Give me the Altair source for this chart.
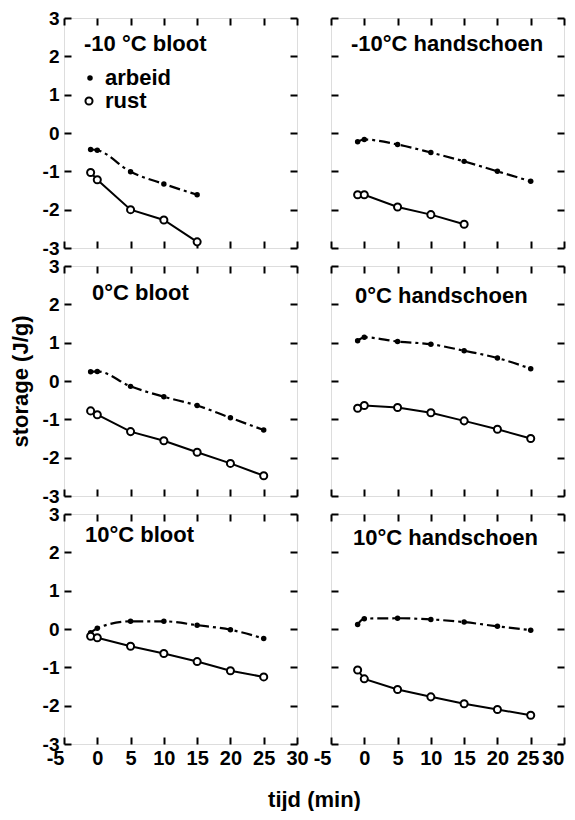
import altair as alt
import pandas as pd

# ---------------- data ----------------
time_full = [-1, 0, 5, 10, 15, 20, 25]
time_short = [-1, 0, 5, 10, 15]

panel_titles = ["-10 °C bloot", "-10°C handschoen", "0°C bloot",
                "0°C handschoen", "10°C bloot", "10°C handschoen"]
series_names = ["arbeid", "rust"]

arbeid_m10_bloot = [-0.43, -0.45, -1.01, -1.33, -1.61]
rust_m10_bloot = [-1.03, -1.22, -2.00, -2.27, -2.84]
arbeid_m10_hand = [-0.23, -0.17, -0.30, -0.51, -0.74, -1.00, -1.26]
rust_m10_hand = [-1.61, -1.61, -1.93, -2.13, -2.38]
arbeid_0_bloot = [0.24, 0.25, -0.14, -0.41, -0.64, -0.96, -1.28]
rust_0_bloot = [-0.78, -0.88, -1.32, -1.56, -1.86, -2.15, -2.47]
arbeid_0_hand = [1.05, 1.14, 1.03, 0.96, 0.79, 0.60, 0.32]
rust_0_hand = [-0.71, -0.64, -0.69, -0.83, -1.04, -1.26, -1.50]
arbeid_10_bloot = [-0.10, 0.02, 0.20, 0.20, 0.10, -0.02, -0.25]
rust_10_bloot = [-0.19, -0.23, -0.45, -0.64, -0.85, -1.09, -1.25]
arbeid_10_hand = [0.12, 0.27, 0.28, 0.25, 0.18, 0.07, -0.03]
rust_10_hand = [-1.07, -1.30, -1.58, -1.77, -1.95, -2.10, -2.25]

x_tick_labels = [-5, 0, 5, 10, 15, 20, 25, 30]
y_tick_labels = [-3, -2, -1, 0, 1, 2, 3]

# ---------------- layout ----------------
W, H = 233, 230
FONT = "Liberation Sans"
TICK = 7
title_pos = [(20, 26), (20, 26), (28, 27), (24, 30), (21, 21), (22, 24)]

xs = alt.Scale(domain=[-5, 30], nice=False, zero=False)
ys = alt.Scale(domain=[-3, 3], nice=False, zero=False)

panel_data = [
    (time_short, arbeid_m10_bloot, time_short, rust_m10_bloot),
    (time_full, arbeid_m10_hand, time_short, rust_m10_hand),
    (time_full, arbeid_0_bloot, time_full, rust_0_bloot),
    (time_full, arbeid_0_hand, time_full, rust_0_hand),
    (time_full, arbeid_10_bloot, time_full, rust_10_bloot),
    (time_full, arbeid_10_hand, time_full, rust_10_hand),
]

# inward ticks (negative tick length given through an expression)
tick_style = dict(ticks=True, tickSize={"expr": str(-TICK)}, tickWidth=2,
                  tickColor="black", domain=False, grid=False)


def make_panel(i):
    row, col = divmod(i, 2)
    t_arb, arb, t_rust, rust = panel_data[i]

    if row == 2:
        test = "datum.value == -5" + (" || datum.value == 30" if col == 1 else "")
        shift = -3 if col == 1 else 0
        xaxis = alt.Axis(
            orient="bottom", values=x_tick_labels, **tick_style,
            labelFlush=False, labelOverlap=False, labelPadding=4 + TICK, labelFontSize=20,
            labelFont=FONT, labelFontWeight="bold", labelColor="black",
            labelAlign={"condition": {"test": test, "value": "right"}, "value": "center"},
            labelOffset={"condition": {"test": "datum.value == 25", "value": shift}, "value": 0},
            labelExpr="'' + datum.value",
            title=("tijd (min)" if col == 0 else None),
            titleFont=FONT, titleFontSize=22, titleFontWeight="bold", titleColor="black",
            titleX=W + 17, titleY=55, titleAlign="center", titleBaseline="middle",
        )
    else:
        xaxis = alt.Axis(orient="bottom", values=x_tick_labels, **tick_style,
                         labels=False, title=None)

    if col == 0:
        yaxis = alt.Axis(
            orient="left", values=y_tick_labels, **tick_style,
            labelFlush=False, labelOverlap=False, labelPadding=5 + TICK, labelFontSize=19,
            labelFont=FONT, labelFontWeight="bold", labelColor="black",
            labelBaseline="middle", labelExpr="'' + datum.value",
            title=("storage (J/g)" if row == 1 else None),
            titleFont=FONT, titleFontSize=22, titleFontWeight="bold", titleColor="black",
            titleX=-44, titleY=H / 2, titleAngle=270, titleAlign="center",
            titleBaseline="middle",
        )
    else:
        yaxis = alt.Axis(orient="left", values=y_tick_labels, **tick_style,
                         labels=False, title=None)

    xtop = alt.Axis(orient="top", values=x_tick_labels, **tick_style, labels=False, title=None)
    yright = alt.Axis(orient="right", values=y_tick_labels, **tick_style, labels=False, title=None)

    def X(ax=xaxis):
        return alt.X("t:Q", scale=xs, axis=ax)

    def Y(ax=yaxis):
        return alt.Y("v:Q", scale=ys, axis=ax)

    df_arb = pd.DataFrame({"t": t_arb, "v": arb})
    df_rust = pd.DataFrame({"t": t_rust, "v": rust})

    rust_line = alt.Chart(df_rust).mark_line(color="black", strokeWidth=2).encode(x=X(), y=Y())
    arb_line = alt.Chart(df_arb).mark_line(
        color="black", strokeWidth=2.2, strokeDash=[11, 4, 3, 4], interpolate="monotone"
    ).encode(x=X(), y=Y())
    arb_pts = alt.Chart(df_arb).mark_point(
        filled=True, color="black", size=30, opacity=1
    ).encode(x=X(), y=Y())
    rust_pts = alt.Chart(df_rust).mark_point(
        filled=True, fill="white", stroke="black", strokeWidth=2, size=50, opacity=1
    ).encode(x=X(), y=Y())

    tx, ty = title_pos[i]
    label = alt.Chart(pd.DataFrame({"label": [panel_titles[i]]})).mark_text(
        align="left", baseline="middle", font=FONT, fontSize=22, fontWeight="bold", color="black"
    ).encode(x=alt.value(tx), y=alt.value(ty), text="label:N")

    layers = [rust_line, arb_line, arb_pts, rust_pts, label]

    if i == 0:
        lg_arb = alt.Chart(pd.DataFrame({"s": [series_names[0]]})).mark_point(
            filled=True, color="black", size=30, opacity=1
        ).encode(x=alt.value(26), y=alt.value(60))
        lg_rust = alt.Chart(pd.DataFrame({"s": [series_names[1]]})).mark_point(
            filled=True, fill="white", stroke="black", strokeWidth=2, size=50, opacity=1
        ).encode(x=alt.value(25), y=alt.value(83))
        lg_t1 = alt.Chart(pd.DataFrame({"s": [series_names[0]]})).mark_text(
            align="left", baseline="middle", font=FONT, fontSize=22, fontWeight="bold", color="black"
        ).encode(x=alt.value(41), y=alt.value(60), text="s:N")
        lg_t2 = alt.Chart(pd.DataFrame({"s": [series_names[1]]})).mark_text(
            align="left", baseline="middle", font=FONT, fontSize=22, fontWeight="bold", color="black"
        ).encode(x=alt.value(41), y=alt.value(83), text="s:N")
        layers += [lg_arb, lg_rust, lg_t1, lg_t2]

    inner = alt.layer(*layers)
    # invisible layer that carries the top and right tick axes
    frame_axes = alt.Chart(df_arb).mark_point(opacity=0).encode(x=X(xtop), y=Y(yright))

    return alt.layer(inner, frame_axes).resolve_axis(
        x="independent", y="independent"
    ).properties(width=W, height=H)


panels = [make_panel(i) for i in range(6)]

chart = alt.concat(
    *panels, columns=2, spacing={"row": 18, "column": 34}, bounds="flush", padding=0
).configure_view(
    stroke="black", strokeWidth=2.5
).configure(
    background="white"
)

chart.save("out.html", embed_options={"renderer": "svg", "actions": False})
